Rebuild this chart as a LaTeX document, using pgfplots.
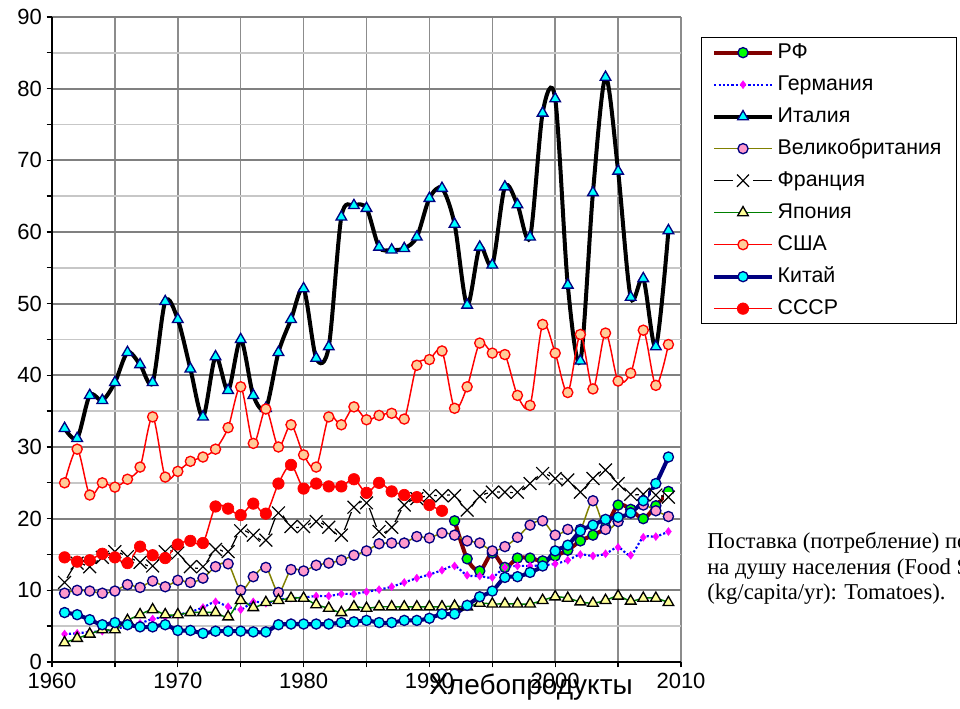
\documentclass[border=0pt]{standalone}
\usepackage{fontspec}
\setmainfont{Liberation Sans}
\newfontfamily\seriffont{Liberation Serif}
\usepackage{pgfplots}
\usepackage{pgfplotstable}
\pgfplotsset{compat=1.18}

\definecolor{rfline}{HTML}{800000}
\definecolor{navyc}{HTML}{000080}
\definecolor{oliveline}{HTML}{808000}
\definecolor{pinkm}{HTML}{FF99CC}
\definecolor{peach}{HTML}{FFCC99}
\definecolor{lyellow}{HTML}{FFFF99}
\definecolor{jgreen}{HTML}{008000}
\definecolor{gmag}{HTML}{FF00FF}
\definecolor{gblue}{HTML}{0000FF}
\definecolor{rgreen}{HTML}{00FF00}
\definecolor{cyanm}{HTML}{00FFFF}

\pgfplotstableread{
year it us fr uk jp de cn
1961 32.6 25.0 11.1 9.6 2.7 3.9 6.9
1962 31.2 29.7 13.8 10.0 3.3 4.0 6.6
1963 37.2 23.3 13.3 9.9 3.9 4.2 5.9
1964 36.5 25.0 14.6 9.6 4.5 4.3 5.2
1965 39.0 24.4 15.4 9.9 4.5 4.6 5.5
1966 43.2 25.5 14.7 10.8 5.8 5.0 5.2
1967 41.5 27.2 13.9 10.4 6.6 5.4 4.9
1968 39.0 34.2 13.4 11.3 7.3 6.0 4.9
1969 50.3 25.8 15.4 10.5 6.6 6.3 5.2
1970 47.8 26.6 15.2 11.4 6.6 6.6 4.4
1971 40.9 28.0 13.3 11.1 6.9 7.0 4.4
1972 34.2 28.6 13.3 11.7 6.9 7.6 4.0
1973 42.6 29.7 15.7 13.3 6.9 8.4 4.3
1974 37.9 32.7 15.4 13.7 6.3 7.7 4.3
1975 45.0 38.4 18.3 10.0 8.6 7.3 4.3
1976 37.2 30.5 17.7 11.9 7.6 8.4 4.2
1977 35.4 35.3 17.0 13.2 8.3 8.2 4.2
1978 43.2 30.0 20.8 9.7 8.6 8.7 5.2
1979 47.8 33.1 18.9 12.9 8.9 8.9 5.3
1980 52.1 28.9 18.9 12.7 8.9 9.0 5.3
1981 42.4 27.2 19.6 13.5 8.0 9.2 5.3
1982 44.0 34.2 18.8 13.8 7.5 9.2 5.3
1983 62.1 33.1 17.7 14.2 6.9 9.5 5.5
1984 63.7 35.6 21.6 14.9 7.7 9.5 5.6
1985 63.3 33.8 22.2 15.5 7.5 9.8 5.8
1986 57.9 34.4 18.2 16.5 7.7 10.1 5.5
1987 57.5 34.7 18.8 16.6 7.7 10.5 5.5
1988 57.7 33.9 21.9 16.6 7.7 11.1 5.8
1989 59.3 41.4 22.8 17.5 7.7 11.7 5.8
1990 64.7 42.2 23.2 17.3 7.7 12.2 6.1
1991 66.1 43.4 23.2 18.0 7.7 12.8 6.7
1992 61.1 35.4 23.2 17.7 7.8 13.4 6.7
1993 49.8 38.4 21.2 16.9 7.7 12.1 7.9
1994 57.9 44.5 23.1 16.6 8.2 12.0 9.1
1995 55.4 43.1 23.7 15.5 8.1 11.8 9.9
1996 66.3 42.9 23.7 16.1 8.1 13.2 11.8
1997 63.8 37.2 23.7 17.4 8.1 13.4 11.9
1998 59.3 35.8 24.9 19.1 8.1 13.4 12.5
1999 76.6 47.1 26.3 19.7 8.6 13.5 13.4
2000 78.6 43.1 25.6 17.7 9.1 13.7 15.5
2001 52.6 37.6 25.4 18.5 8.9 14.2 16.3
2002 42.0 45.7 23.7 18.5 8.4 15.0 18.3
2003 65.5 38.1 25.6 22.5 8.2 14.8 19.1
2004 81.6 45.9 26.8 18.5 8.6 15.1 19.9
2005 68.5 39.2 24.9 19.6 9.2 16.0 20.2
2006 50.9 40.3 23.4 20.8 8.5 14.9 20.8
2007 53.5 46.3 23.4 21.9 8.9 17.4 22.5
2008 44.0 38.6 23.3 21.1 8.9 17.5 24.9
2009 60.2 44.3 23.0 20.3 8.3 18.2 28.6
}\maindata

\pgfplotstableread{
year su
1961 14.6
1962 14.0
1963 14.2
1964 15.1
1965 14.6
1966 13.8
1967 16.1
1968 14.9
1969 14.5
1970 16.4
1971 16.9
1972 16.6
1973 21.7
1974 21.4
1975 20.5
1976 22.1
1977 20.7
1978 24.9
1979 27.5
1980 24.2
1981 24.9
1982 24.5
1983 24.5
1984 25.5
1985 23.6
1986 25.0
1987 23.8
1988 23.3
1989 23.0
1990 21.9
1991 21.1
}\ussrdata

\pgfplotstableread{
year rf
1992 19.7
1993 14.4
1994 12.7
1995 15.2
1996 13.2
1997 14.5
1998 14.5
1999 14.1
2000 14.8
2001 15.6
2002 16.9
2003 17.7
2004 18.8
2005 21.9
2006 21.3
2007 20.0
2008 21.8
2009 23.8
}\rfdata

\begin{document}
\begin{tikzpicture}
\path[use as bounding box] (0pt,0pt) rectangle (720pt,531.75pt);
\begin{axis}[
  at={(39pt,35.25pt)}, anchor=south west,
  scale only axis, width=471.75pt, height=483.75pt,
  xmin=1960, xmax=2010, ymin=0, ymax=90,
  xtick={1960,1970,...,2010}, minor xtick={1965,1975,...,2005},
  ytick={0,10,...,90}, minor ytick={5,15,...,85},
  grid=both,
  major x grid style={draw=black!45, line width=1.1pt},
  minor x grid style={draw=black!45, line width=1.1pt},
  major y grid style={draw=black!50, line width=1.4pt},
  minor y grid style={draw=black!22, line width=1.4pt},
  axis x line*=bottom, axis y line*=left,
  axis line style={black, line width=1.4pt, -},
  tick align=outside, major tick length=4pt, minor tick length=4pt,
  tick style={black, line width=1pt},
  ticklabel style={font=\fontsize{16.5}{18}\selectfont},
  /pgf/number format/assume math mode=true,
  /pgf/number format/1000 sep={},
  xticklabel style={yshift=-1pt},
  legend style={at={(1.0318,0.969)}, anchor=north west, draw=black, line width=1pt,
    fill=white, font=\fontsize{16}{18}\selectfont, inner xsep=8pt, inner ysep=3.25pt,
    nodes={inner xsep=3pt, inner ysep=0pt, text height=12pt, text depth=4pt, anchor=west},
    row sep=8pt},
  legend cell align=left,
  legend image code/.code={\draw[#1, mark repeat=2, mark phase=2] plot coordinates {(0pt,0pt) (21.5pt,0pt) (43pt,0pt)};},
  clip=false,
]
% RF
\addplot[rfline, line width=3pt, smooth, mark=*, mark size=3.8pt,
  mark options={solid, fill=rgreen, draw=navyc, line width=1pt}] table[x=year,y=rf] {\rfdata};
\addlegendentry{РФ}
% Germany
\addplot[gblue, line width=1.6pt, dash pattern=on 1.6pt off 1.6pt, smooth, mark=diamond*, mark size=3pt,
  mark options={solid, fill=gmag, draw=gmag, line width=0.3pt}] table[x=year,y=de] {\maindata};
\addlegendentry{Германия}
% Italy
\addplot[black, line width=3pt, smooth, mark=triangle*, mark size=4.6pt,
  mark options={solid, fill=cyanm, draw=navyc, line width=1pt}] table[x=year,y=it] {\maindata};
\addlegendentry{Италия}
% UK
\addplot[oliveline, line width=1.1pt, smooth, mark=*, mark size=3.8pt,
  mark options={solid, fill=pinkm, draw=navyc, line width=1pt}] table[x=year,y=uk] {\maindata};
\addlegendentry{Великобритания}
% France
\addplot[black, line width=0.9pt, smooth, forget plot] table[x=year,y=fr] {\maindata};
\addplot[only marks, mark=square*, mark size=3.2pt, mark options={draw=white, fill=white, line width=0pt}, forget plot] table[x=year,y=fr] {\maindata};
\addplot[only marks, mark=x, mark size=6.8pt, mark options={black, line width=0.9pt},
  legend image code/.code={\draw[black, line width=0.9pt] (0pt,0pt) -- (14pt,0pt) (29pt,0pt) -- (43pt,0pt);
    \draw[black, line width=0.9pt] (17pt,-4.6pt) -- (26pt,4.6pt) (17pt,4.6pt) -- (26pt,-4.6pt);}]
  table[x=year,y=fr] {\maindata};
\addlegendentry{Франция}
% Japan
\addplot[jgreen, line width=1.1pt, smooth, mark=triangle*, mark size=4.6pt,
  mark options={solid, fill=lyellow, draw=black, line width=1pt}] table[x=year,y=jp] {\maindata};
\addlegendentry{Япония}
% USA
\addplot[red, line width=1.1pt, smooth, mark=*, mark size=3.8pt,
  mark options={solid, fill=peach, draw=red, line width=1pt}] table[x=year,y=us] {\maindata};
\addlegendentry{США}
% China
\addplot[navyc, line width=3pt, smooth, mark=*, mark size=3.8pt,
  mark options={solid, fill=cyanm, draw=navyc, line width=1pt}] table[x=year,y=cn] {\maindata};
\addlegendentry{Китай}
% USSR
\addplot[red, line width=1.1pt, smooth, mark=*, mark size=4.3pt,
  mark options={solid, fill=red, draw=red, line width=0.5pt}] table[x=year,y=su] {\ussrdata};
\addlegendentry{СССР}
\end{axis}
\node[anchor=base, font=\fontsize{21}{23}\selectfont, inner sep=0pt] at (398.25pt,10.5pt) {Хлебопродукты};
\node[anchor=base west, align=left, inner sep=0pt, font=\seriffont\fontsize{17}{19.3}\selectfont] at (530.25pt,81.75pt)
  {Поставка (потребление) помидоров\\на душу населения (Food Supply Quantity\\(kg/capita/yr): Tomatoes).};
\end{tikzpicture}
\end{document}
